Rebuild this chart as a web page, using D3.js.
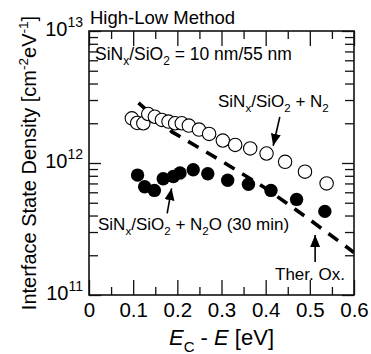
<!DOCTYPE html>
<html>
<head>
<meta charset="utf-8">
<script src="https://cdn.jsdelivr.net/npm/d3@7"></script>
<style>
  html, body { margin: 0; padding: 0; background: #fff; }
  svg text { font-family: "Liberation Sans", Arial, Helvetica, sans-serif; fill: #000; }
</style>
</head>
<body>
<svg id="chart"></svg>
<script>
// SiNx/SiO2 + N2 (open circles)
const n2E = [0.097, 0.109, 0.123, 0.134, 0.149, 0.165, 0.180, 0.195, 0.210, 0.226, 0.249, 0.272, 0.303, 0.331, 0.365, 0.402, 0.444, 0.489, 0.538];
const n2D = [2.18e12, 2.01e12, 2.00e12, 2.35e12, 2.24e12, 2.12e12, 2.06e12, 2.00e12, 2.00e12, 1.92e12, 1.79e12, 1.66e12, 1.48e12, 1.37e12, 1.29e12, 1.18e12, 1.02e12, 0.86e12, 0.70e12];
// SiNx/SiO2 + N2O (30 min) (filled circles)
const n2oE = [0.110, 0.126, 0.148, 0.168, 0.191, 0.206, 0.236, 0.269, 0.314, 0.361, 0.412, 0.470, 0.534];
const n2oD = [8.1e11, 6.6e11, 6.2e11, 7.6e11, 7.9e11, 8.4e11, 8.9e11, 8.3e11, 7.4e11, 6.9e11, 6.2e11, 5.3e11, 4.3e11];
// thermal oxide (dashed line)
const thermE = [0.112, 0.188, 0.297, 0.398, 0.496, 0.6];
const thermD = [2.85e12, 1.72e12, 1.05e12, 0.65e12, 0.38e12, 0.21e12];

const xTicks = [0, 0.1, 0.2, 0.3, 0.4, 0.5, 0.6];
const xMinorTicks = [0.05, 0.15, 0.25, 0.35, 0.45, 0.55];
const yTicks = [1e11, 1e12, 1e13];
const yTickExp = ["11", "12", "13"];

// arrows: [fromE, fromD, toE, toD]
const arrows = [
  [0.432, 2.23e12, 0.417, 1.35e12],
  [0.177, 4.16e11, 0.187, 6.43e11],
  [0.512, 1.78e11, 0.512, 2.85e11]
];

(function(){
  const W = 371, H = 354;
  const MARGIN = { top: 31, right: 17, bottom: 59, left: 89 };
  const width = W - MARGIN.left - MARGIN.right;
  const height = H - MARGIN.top - MARGIN.bottom;

  const svg = d3.select('#chart').attr('width', W).attr('height', H);

  svg.append('defs').append('marker')
    .attr('id', 'arrow')
    .attr('viewBox', '0 0 12 10')
    .attr('refX', 12).attr('refY', 5)
    .attr('markerWidth', 12).attr('markerHeight', 10)
    .attr('markerUnits', 'userSpaceOnUse')
    .attr('orient', 'auto')
    .append('path').attr('d', 'M0,0L12,5L0,10Z').attr('fill', '#000');

  svg.select('defs').append('clipPath').attr('id', 'plotclip')
    .append('rect').attr('width', width).attr('height', height);

  const g = svg.append('g')
    .attr('transform', 'translate(' + MARGIN.left + ',' + MARGIN.top + ')');

  const x = d3.scaleLinear().domain([0, 0.6]).range([0, width]);
  const y = d3.scaleLog().domain([1e11, 1e13]).range([height, 0]);

  const yMinor = [];
  [1e11, 1e12].forEach(function(b){ for (let k = 2; k <= 9; k++) yMinor.push(b * k); });

  function styleAxis(sel){
    sel.select('.domain').remove();
    sel.selectAll('.tick line').attr('stroke', '#111').attr('stroke-width', 1.3);
  }

  // x axes (ticks pointing inward)
  g.append('g').attr('transform', 'translate(0,' + height + ')')
    .call(d3.axisBottom(x).tickValues(xTicks).tickSize(-15).tickPadding(7)
      .tickFormat(function(d){ return d === 0 ? '0' : d3.format('.1f')(d); }))
    .call(styleAxis)
    .selectAll('text').attr('font-size', 20.5).attr('fill', '#000');
  g.append('g').attr('transform', 'translate(0,' + height + ')')
    .call(d3.axisBottom(x).tickValues(xMinorTicks).tickSize(-8).tickFormat(''))
    .call(styleAxis);
  g.append('g')
    .call(d3.axisTop(x).tickValues(xTicks).tickSize(-15).tickFormat(''))
    .call(styleAxis);
  g.append('g')
    .call(d3.axisTop(x).tickValues(xMinorTicks).tickSize(-8).tickFormat(''))
    .call(styleAxis);

  // y axes
  g.append('g')
    .call(d3.axisLeft(y).tickValues(yTicks).tickSize(-12).tickFormat(''))
    .call(styleAxis);
  g.append('g')
    .call(d3.axisLeft(y).tickValues(yMinor).tickSize(-9).tickFormat(''))
    .call(styleAxis);
  g.append('g').attr('transform', 'translate(' + width + ',0)')
    .call(d3.axisRight(y).tickValues(yTicks).tickSize(-12).tickFormat(''))
    .call(styleAxis);
  g.append('g').attr('transform', 'translate(' + width + ',0)')
    .call(d3.axisRight(y).tickValues(yMinor).tickSize(-9).tickFormat(''))
    .call(styleAxis);

  // y tick labels 10^n
  yTicks.forEach(function(v, i){
    const t = g.append('text')
      .attr('x', -6).attr('y', y(v) + 5)
      .attr('text-anchor', 'end').attr('font-size', 20);
    t.append('tspan').text('10');
    t.append('tspan').attr('dy', -9).attr('font-size', 14).text(yTickExp[i]);
  });

  // frame
  g.append('rect')
    .attr('width', width).attr('height', height)
    .attr('fill', 'none').attr('stroke', '#111').attr('stroke-width', 1.6);

  const plot = g.append('g').attr('clip-path', 'url(#plotclip)');

  // thermal oxide dashed line
  const line = d3.line()
    .x(function(d){ return x(d[0]); })
    .y(function(d){ return y(d[1]); });
  plot.append('path')
    .datum(d3.zip(thermE, thermD))
    .attr('d', line)
    .attr('fill', 'none')
    .attr('stroke', '#000')
    .attr('stroke-width', 3.6)
    .attr('stroke-dasharray', '12,9');

  // filled circles
  plot.selectAll('circle.n2o')
    .data(d3.zip(n2oE, n2oD))
    .enter().append('circle')
    .attr('class', 'n2o')
    .attr('cx', function(d){ return x(d[0]); })
    .attr('cy', function(d){ return y(d[1]); })
    .attr('r', 6.7)
    .attr('fill', '#000');

  // open circles
  plot.selectAll('circle.n2')
    .data(d3.zip(n2E, n2D))
    .enter().append('circle')
    .attr('class', 'n2')
    .attr('cx', function(d){ return x(d[0]); })
    .attr('cy', function(d){ return y(d[1]); })
    .attr('r', 6.7)
    .attr('fill', '#fff')
    .attr('stroke', '#000')
    .attr('stroke-width', 1.1);

  // arrows
  g.selectAll('line.arrow')
    .data(arrows)
    .enter().append('line')
    .attr('class', 'arrow')
    .attr('x1', function(d){ return x(d[0]); })
    .attr('y1', function(d){ return y(d[1]); })
    .attr('x2', function(d){ return x(d[2]); })
    .attr('y2', function(d){ return y(d[3]); })
    .attr('stroke', '#000')
    .attr('stroke-width', 1.6)
    .attr('marker-end', 'url(#arrow)');

  // labels with sub/superscripts: parts = [text, 'sub'|'sup'|null, italic]
  function richText(parent, px, py, size, parts){
    const t = parent.append('text').attr('x', px).attr('y', py).attr('font-size', size);
    let shift = 0;
    parts.forEach(function(p){
      const ts = t.append('tspan').text(p[0]);
      let target = 0;
      if (p[1] === 'sub') target = size * 0.3;
      if (p[1] === 'sup') target = -size * 0.4;
      if (target !== shift) { ts.attr('dy', target - shift); shift = target; }
      if (p[1]) ts.attr('font-size', size * 0.68);
      if (p[2]) ts.attr('font-style', 'italic');
    });
    return t;
  }

  richText(svg, 90, 24, 18.5, [['High-Low Method']]);
  richText(g, 6, 29, 17.5, [['SiN'], ['x', 'sub'], ['/SiO'], ['2', 'sub'], [' = 10 nm/55 nm']]);
  richText(g, 129, 76, 17, [['SiN'], ['x', 'sub'], ['/SiO'], ['2', 'sub'], [' + N'], ['2', 'sub']]);
  richText(g, 9, 199, 17, [['SiN'], ['x', 'sub'], ['/SiO'], ['2', 'sub'], [' + N'], ['2', 'sub'], ['O (30 min)']]);
  richText(g, 186, 249, 17, [['Ther. Ox.']]);

  // axis titles
  const xt = richText(svg, 0, 345, 22, [['E', null, true], ['C', 'sub'], [' - '], ['E', null, true], [' [eV]']]);
  xt.attr('x', MARGIN.left + width / 2).attr('text-anchor', 'middle');

  const yt = richText(svg, 0, 0, 20, [['Interface State Density [cm'], ['-2', 'sup'], ['eV'], ['-1', 'sup'], [']']]);
  yt.attr('text-anchor', 'middle')
    .attr('transform', 'translate(36,' + (MARGIN.top + height / 2) + ') rotate(-90)');
})();
</script>
</body>
</html>
